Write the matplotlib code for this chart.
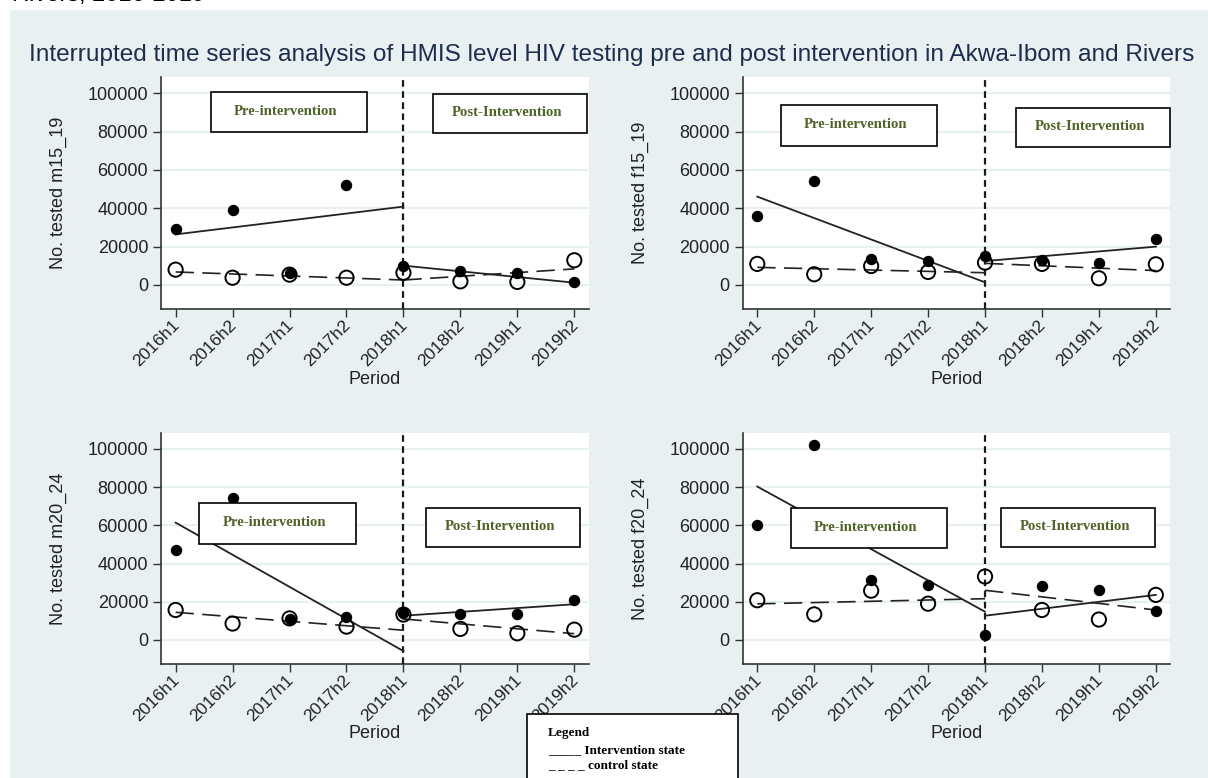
import matplotlib
matplotlib.use("Agg")
import matplotlib.pyplot as plt
from matplotlib.patches import Rectangle
from matplotlib.transforms import ScaledTranslation

plt.rcParams['font.family'] = ['Liberation Sans', 'DejaVu Sans']

# half-year periods
periods = ['2016h1', '2016h2', '2017h1', '2017h2', '2018h1', '2018h2', '2019h1', '2019h2']
yticks = [0, 20000, 40000, 60000, 80000, 100000]

# observed numbers tested: intervention (Akwa-Ibom) and control (Rivers)
m15_19_int = [29000, 39000, 6400, 52200, 10100, 7300, 6100, 1400]
m15_19_ctl = [8000, 3800, 5400, 3800, 6400, 1900, 1600, 12900]
f15_19_int = [36200, 54400, 13700, 12400, 15000, 13000, 11700, 24000]
f15_19_ctl = [11000, 5600, 9900, 6800, 11700, 11000, 3500, 10800]
m20_24_int = [47300, 74200, 11000, 11900, 14000, 13800, 13600, 20800]
m20_24_ctl = [15700, 8600, 11300, 7000, 13300, 5800, 3500, 5400]
f20_24_int = [60000, 101900, 31200, 29000, 2600, 28100, 26400, 15000]
f20_24_ctl = [20800, 13400, 25800, 19000, 33200, 15700, 10700, 23600]

# fitted segments: [pre start, pre end, post start, post end]
m15_19_int_fit = [26400, 40900, 10100, 1200]
m15_19_ctl_fit = [6800, 2600, 2600, 8400]
f15_19_int_fit = [46100, 1400, 12500, 20000]
f15_19_ctl_fit = [9200, 6400, 11300, 7500]
m20_24_int_fit = [61400, -5800, 12700, 18700]
m20_24_ctl_fit = [14500, 5100, 11000, 3300]
f20_24_int_fit = [80300, 14800, 12700, 23600]
f20_24_ctl_fit = [18900, 21600, 26000, 15700]

intervention_idx = 4

panels = [
    ('m15_19', m15_19_int, m15_19_ctl, m15_19_int_fit, m15_19_ctl_fit),
    ('f15_19', f15_19_int, f15_19_ctl, f15_19_int_fit, f15_19_ctl_fit),
    ('m20_24', m20_24_int, m20_24_ctl, m20_24_int_fit, m20_24_ctl_fit),
    ('f20_24', f20_24_int, f20_24_ctl, f20_24_int_fit, f20_24_ctl_fit),
]

# axes rectangles (left, bottom, width, height) and label boxes in axes fractions
rects = [
    [0.1336, 0.6024, 0.3536, 0.2986],
    [0.6151, 0.6024, 0.3535, 0.2986],
    [0.1336, 0.1462, 0.3536, 0.2977],
    [0.6151, 0.1462, 0.3535, 0.2977],
]
pre_boxes = [(0.115, 0.762, 0.366, 0.175), (0.088, 0.703, 0.367, 0.176),
             (0.088, 0.521, 0.367, 0.177), (0.1115, 0.501, 0.367, 0.175)]
post_boxes = [(0.636, 0.759, 0.360, 0.168), (0.640, 0.700, 0.361, 0.168),
              (0.620, 0.508, 0.361, 0.168), (0.604, 0.508, 0.360, 0.168)]

BG = '#e9f0f2'
GREEN = '#4f6228'

fig = plt.figure(figsize=(12.08, 7.78), dpi=100)
fig.patch.set_facecolor('white')
fig.patches.append(Rectangle((10 / 1208, 0), 1, 1 - 10 / 778, transform=fig.transFigure,
                             facecolor=BG, edgecolor='none', zorder=-5))

fig.text(12 / 1208, 1 - 1.5 / 778, 'Rivers, 2016-2019', fontsize=17, color='black',
         ha='left', va='baseline')
fig.text(29 / 1208, 1 - 61 / 778,
         'Interrupted time series analysis of HMIS level HIV testing pre and post '
         'intervention in Akwa-Ibom and Rivers',
         fontsize=17.6, color='#1f2d4d', ha='left', va='baseline')

x = list(range(len(periods)))
shift = ScaledTranslation(-4 / 100, 0, fig.dpi_scale_trans)
for i, (name, obs_int, obs_ctl, fit_int, fit_ctl) in enumerate(panels):
    ax = fig.add_axes(rects[i])
    ax.set_facecolor('white')
    ax.set_xlim(-0.25, 7.25)
    ax.set_ylim(-12700, 108500)
    ax.set_yticks(yticks)
    ax.set_yticklabels([str(v) for v in yticks])
    ax.set_xticks(x)
    ax.set_xticklabels(periods, rotation=45, ha='right', va='top', rotation_mode='anchor')
    ax.tick_params(labelsize=13, length=6, width=1, colors='#333333', labelcolor='#222222')
    ax.tick_params(axis='x', labelsize=12.5, pad=0)
    for lab in ax.get_xticklabels():
        lab.set_transform(lab.get_transform() + shift)
    ax.grid(axis='y', color=BG, lw=1.6)
    ax.set_axisbelow(True)
    for s in ['top', 'right']:
        ax.spines[s].set_visible(False)
    for s in ['left', 'bottom']:
        ax.spines[s].set_color('#333333')
        ax.spines[s].set_linewidth(1.2)

    ax.axvline(intervention_idx, color='#1a1a1a', lw=1.6, ls=(0, (3, 2)), clip_on=False, zorder=3)

    ax.scatter(x, obs_int, s=52, color='black', zorder=4)
    ax.scatter(x, obs_ctl, s=105, facecolors='none', edgecolors='black', linewidths=1.4, zorder=4)

    ax.plot([0, intervention_idx], fit_int[:2], color='#222222', lw=1.3, zorder=3)
    ax.plot([intervention_idx, 7], fit_int[2:], color='#222222', lw=1.3, zorder=3)
    ax.plot([0, intervention_idx], fit_ctl[:2], color='#222222', lw=1.2, ls=(0, (11, 5)), zorder=3)
    ax.plot([intervention_idx, 7], fit_ctl[2:], color='#222222', lw=1.2, ls=(0, (11, 5)), zorder=3)

    ax.set_ylabel('No. tested ' + name, fontsize=13, color='#222222')
    ax.yaxis.set_label_coords(-0.221, 0.5)
    ax.set_xlabel('Period', fontsize=13, color='#222222')
    ax.xaxis.set_label_coords(0.5, -0.30)
    ax.xaxis.label.set_va('center')

    for (bx, by, bw, bh), label in [(pre_boxes[i], 'Pre-intervention'),
                                    (post_boxes[i], 'Post-Intervention')]:
        ax.add_patch(Rectangle((bx, by), bw, bh, transform=ax.transAxes, facecolor='white',
                               edgecolor='black', lw=1.2, zorder=6, clip_on=False))
        ax.text(bx + bw * 0.48, by + bh * 0.52, label, transform=ax.transAxes,
                family='Liberation Serif', weight='bold', fontsize=10.6, color=GREEN,
                ha='center', va='center', zorder=7)

# legend note box
fig.patches.append(Rectangle((527 / 1208, -0.05), 211 / 1208, 0.05 + 1 - 714 / 778,
                             transform=fig.transFigure, facecolor='white',
                             edgecolor='black', lw=1.2, zorder=10))
for yy, txt in [(733, 'Legend'), (750, '_____ Intervention state'), (765, '_ _ _ _ control state')]:
    fig.text(548 / 1208, 1 - yy / 778, txt, family='Liberation Serif', weight='bold',
             fontsize=9.5, color='black', ha='left', va='center', zorder=11)

fig.savefig('out.png', dpi=100)
